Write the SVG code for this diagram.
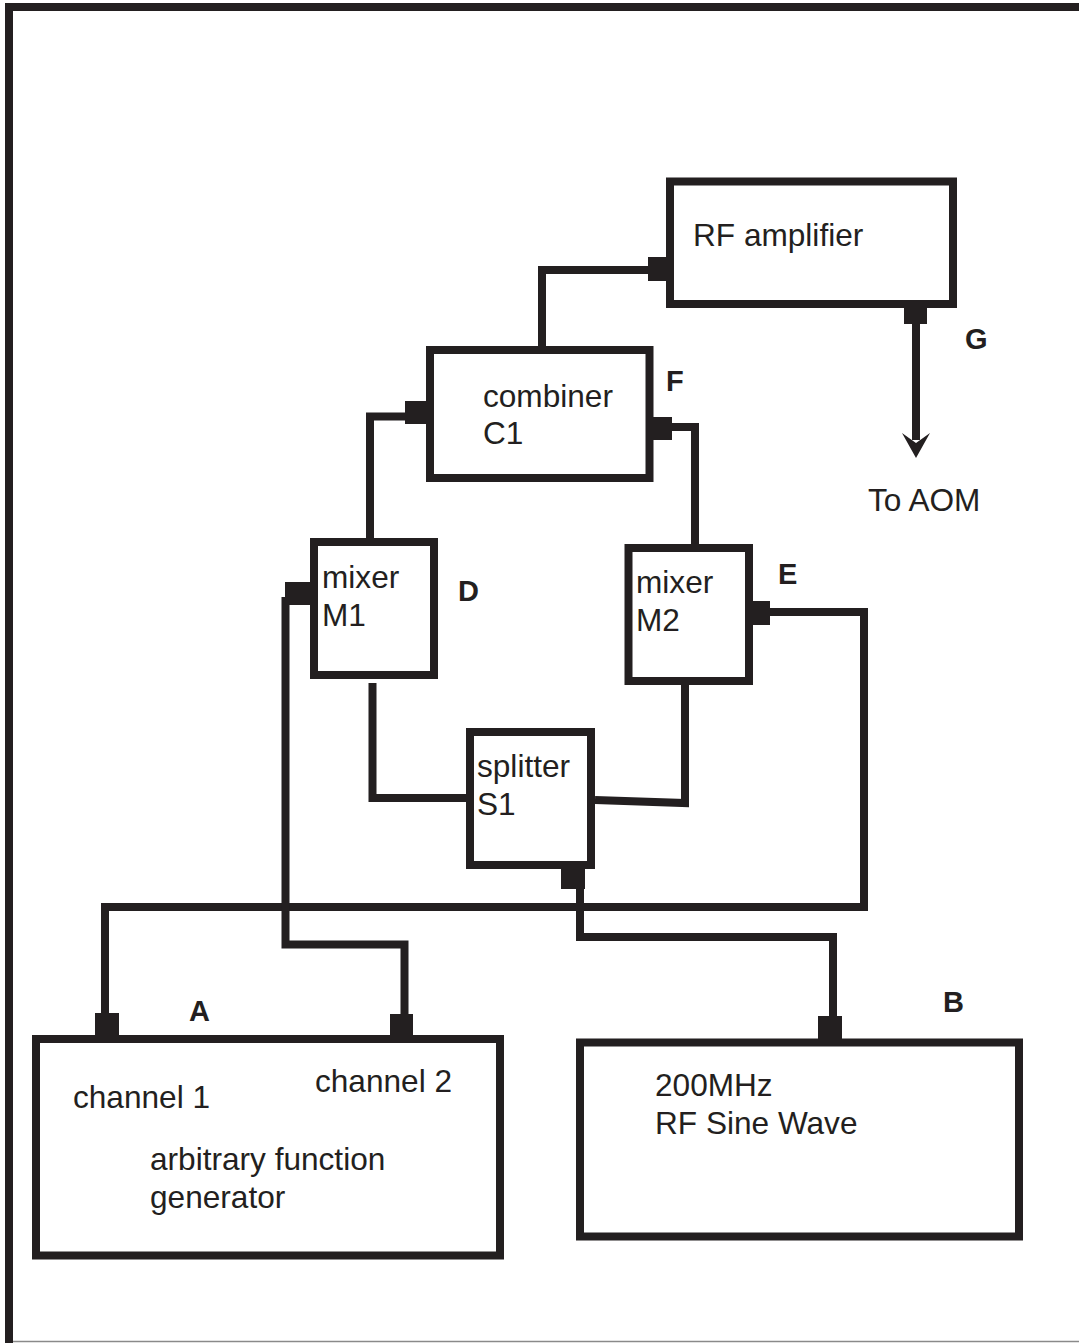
<svg xmlns="http://www.w3.org/2000/svg" width="1079" height="1343" viewBox="0 0 1079 1343">
<style>
.box{fill:none;stroke:#231f20;stroke-width:8}
.wire{fill:none;stroke:#231f20;stroke-width:8;stroke-linejoin:miter;stroke-linecap:butt}
.port{fill:#231f20}
.t{font-family:"Liberation Sans",Arial,sans-serif;font-size:31.6px;fill:#231f20}
.lbl{font-family:"Liberation Sans",Arial,sans-serif;font-size:29px;font-weight:bold;fill:#231f20}
</style>
<rect width="1079" height="1343" fill="#fff"/>
<g id="frame">
<path d="M9 1343 V7 H1079" fill="none" stroke="#231f20" stroke-width="8"/>
<line x1="13" y1="1341.5" x2="1079" y2="1341.5" stroke="#8a8a8a" stroke-width="1.5"/>
</g>
<g id="connectors">
<path class="wire" d="M650 270 H542 V346"/>
<path class="wire" d="M407 416.5 H370 V538"/>
<path class="wire" d="M670 427 H695 V544"/>
<path class="wire" d="M372.5 683 V798 H466"/>
<path class="wire" d="M595 800 L685 803 V685"/>
<path class="wire" d="M768 612 H864 V907 H105 V1015"/>
<path class="wire" d="M285.5 597 V944.5 H404.5 V1016"/>
<path class="wire" d="M580 887 V937 H833 V1018"/>
<path class="wire" d="M916 322 V440" stroke-width="7"/>
<path class="port" d="M902 433 L916 458 L930 433 L916 443 Z"/>
</g>
<g id="rf-amplifier">
<rect class="box" x="670" y="181.5" width="283" height="122.5"/>
<rect class="port" x="648" y="257" width="24" height="24"/>
<rect class="port" x="904" y="300" width="23" height="24"/>
<text class="t" x="693" y="246">RF amplifier</text>
</g>
<g id="label-G"><text class="lbl" x="965" y="349">G</text></g>
<g id="to-aom"><text class="t" x="868" y="511">To AOM</text></g>
<g id="combiner-C1">
<rect class="box" x="430" y="350" width="219.5" height="128"/>
<rect class="port" x="405" y="401" width="24" height="23"/>
<rect class="port" x="648" y="417" width="24" height="23"/>
<text class="t" x="483" y="406.5">combiner</text>
<text class="t" x="483" y="444">C1</text>
</g>
<g id="label-F"><text class="lbl" x="666" y="391">F</text></g>
<g id="mixer-M1">
<rect class="box" x="314" y="542" width="120" height="133"/>
<rect class="port" x="285" y="582" width="26" height="23"/>
<text class="t" x="322" y="588">mixer</text>
<text class="t" x="322" y="626">M1</text>
</g>
<g id="label-D"><text class="lbl" x="458" y="601">D</text></g>
<g id="mixer-M2">
<rect class="box" x="628.5" y="548" width="120.5" height="133"/>
<rect class="port" x="749" y="601" width="21" height="24"/>
<text class="t" x="636" y="593">mixer</text>
<text class="t" x="636" y="631">M2</text>
</g>
<g id="label-E"><text class="lbl" x="778" y="584">E</text></g>
<g id="splitter-S1">
<rect class="box" x="470" y="732" width="121" height="133"/>
<rect class="port" x="561" y="865" width="24" height="24"/>
<text class="t" x="477" y="777">splitter</text>
<text class="t" x="477" y="815">S1</text>
</g>
<g id="arbitrary-function-generator">
<rect class="box" x="36" y="1039" width="464" height="216.5"/>
<rect class="port" x="95" y="1013" width="24" height="24"/>
<rect class="port" x="390" y="1014" width="23" height="23"/>
<text class="t" x="73" y="1108">channel 1</text>
<text class="t" x="315" y="1092">channel 2</text>
<text class="t" x="150" y="1170">arbitrary function</text>
<text class="t" x="150" y="1208">generator</text>
</g>
<g id="label-A"><text class="lbl" x="189" y="1021">A</text></g>
<g id="rf-sine-wave">
<rect class="box" x="580" y="1042.5" width="439" height="194"/>
<rect class="port" x="818" y="1016" width="24" height="24"/>
<text class="t" x="655" y="1096">200MHz</text>
<text class="t" x="655" y="1134">RF Sine Wave</text>
</g>
<g id="label-B"><text class="lbl" x="943" y="1012">B</text></g>
</svg>
